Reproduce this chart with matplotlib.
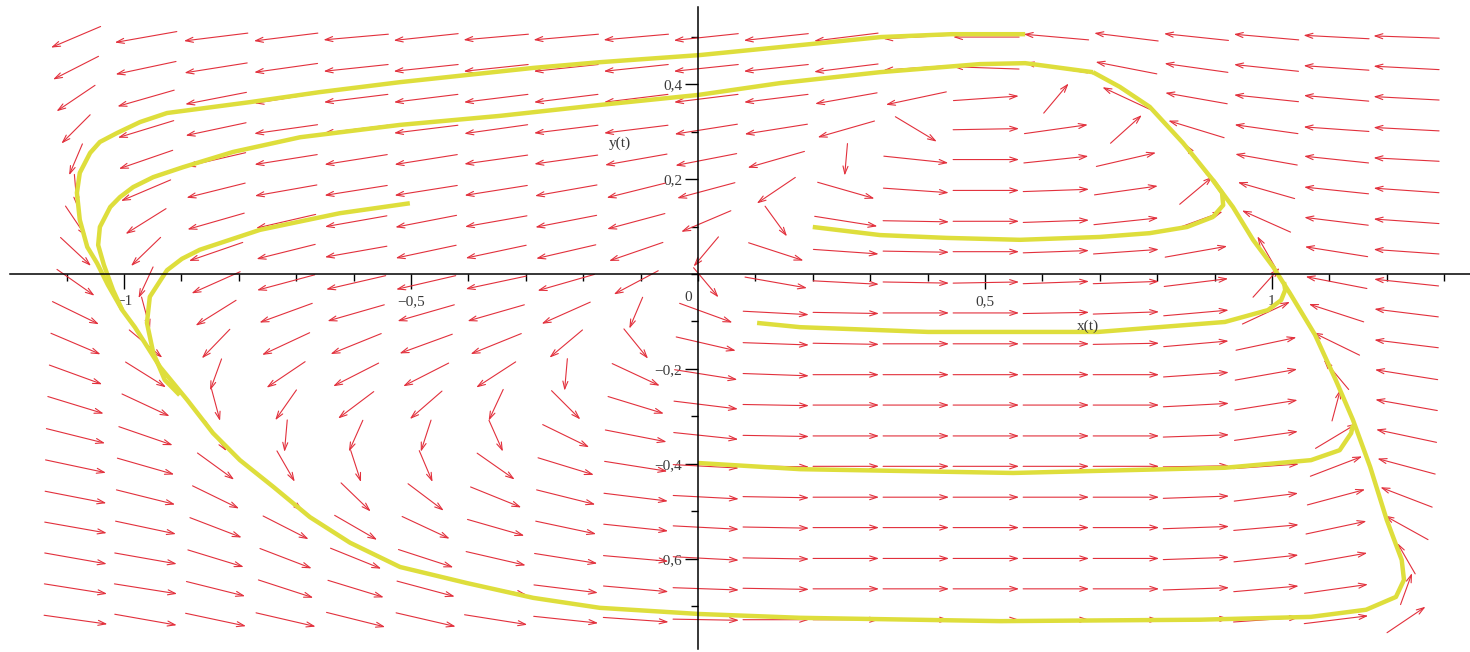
import matplotlib
matplotlib.use("Agg")
import matplotlib.pyplot as plt
import numpy as np

# direction field grid (data coords)
X_GRID = [-1.084, -0.962, -0.840, -0.718, -0.596, -0.474, -0.352, -0.230, -0.108, 0.014,
          0.136, 0.258, 0.380, 0.502, 0.624, 0.746, 0.868, 0.990, 1.112, 1.234]
Y_GRID = [0.499, 0.434, 0.370, 0.305, 0.241, 0.176, 0.111, 0.047, -0.018, -0.082,
          -0.147, -0.212, -0.276, -0.341, -0.405, -0.470, -0.534, -0.599, -0.663, -0.728]

# arrow directions on screen, degrees ccw from +x, rows top -> bottom
ANGLES = [
    [203, 190, 187, 187, 185, 186, 185, 185, 185, 186, 186, 187, 183, 180, 175, 173, 174, 175, 177, 178],
    [207, 192, 189, 188, 186, 186, 186, 186, 186, 186, 186, 187, 184, 178, 171, 169, 172, 174, 176, 177],
    [214, 196, 191, 189, 187, 187, 187, 187, 187, 187, 187, 190, 192, 4, 50, 155, 170, 174, 175, 177],
    [225, 197, 192, 188, 187, 187, 188, 187, 187, 189, 189, 196, 329, 1, 8, 42, 163, 172, 176, 177],
    [247, 199, 193, 189, 189, 189, 188, 188, 190, 191, 196, 265, 354, 0, 6, 13, 125, 170, 174, 177],
    [275, 203, 194, 190, 189, 189, 189, 190, 194, 195, 214, 344, 356, 0, 2, 8, 40, 164, 174, 176],
    [304, 212, 196, 193, 190, 191, 190, 191, 195, 203, 306, 351, 359, 0, 2, 6, 20, 156, 173, 176],
    [317, 224, 199, 194, 190, 192, 192, 193, 199, 230, 342, 356, 359, 0, 2, 4, 10, 120, 171, 176],
    [325, 245, 204, 195, 193, 193, 192, 196, 208, 310, 350, 357, 359, 1, 2, 2, 7, 48, 169, 174],
    [334, 285, 212, 200, 196, 196, 196, 204, 247, 340, 357, 359, 0, 0, 1, 2, 5, 25, 162, 173],
    [337, 320, 226, 205, 202, 200, 202, 220, 309, 347, 358, 359, 0, 0, 0, 1, 5, 12, 154, 173],
    [340, 328, 250, 214, 207, 207, 213, 265, 335, 351, 358, 0, 0, 0, 0, 0, 4, 10, 130, 171],
    [343, 335, 285, 235, 217, 221, 245, 315, 343, 353, 359, 0, 0, 0, 0, 0, 3, 9, 75, 170],
    [346, 341, 305, 265, 246, 252, 294, 334, 349, 354, 359, 0, 0, 0, 0, 0, 2, 8, 31, 168],
    [348, 344, 324, 300, 288, 293, 325, 343, 351, 357, 359, 0, 0, 0, 0, 0, 1, 4, 21, 165],
    [349, 346, 334, 321, 316, 323, 338, 346, 353, 357, 359, 0, 0, 0, 0, 0, 2, 7, 15, 159],
    [350, 348, 339, 333, 330, 335, 344, 348, 354, 357, 359, 0, 0, 0, 0, 0, 2, 5, 12, 151],
    [350, 350, 343, 339, 338, 342, 347, 351, 355, 357, 359, 0, 0, 0, 0, 0, 2, 6, 10, 120],
    [351, 351, 346, 342, 343, 345, 349, 353, 355, 358, 359, 0, 0, 0, 0, 0, 2, 5, 8, 70],
    [352, 350, 348, 347, 346, 347, 351, 354, 356, 359, 0, 0, 0, 0, 0, 0, 2, 4, 7, 34],
]

# trajectories (x, y)
cycle_x = [0.688, 0.570, 0.491, 0.317, 0.143, 0.000, -0.171, -0.345, -0.519, -0.693, -0.810, -0.897,
           -0.949, -0.984, -1.007, -1.024, -1.042, -1.045, -1.035, -1.019, -1.003, -0.981, -0.937,
           -0.890, -0.845, -0.798, -0.740, -0.676, -0.606, -0.519, -0.402, -0.287, -0.171, 0.003,
           0.178, 0.526, 0.875, 1.068, 1.164, 1.216, 1.230, 1.226, 1.200, 1.171, 1.141, 1.111,
           1.075, 1.031, 1.002, 0.967, 0.932, 0.897, 0.845, 0.787, 0.735, 0.688]
cycle_y = [0.425, 0.444, 0.442, 0.425, 0.402, 0.377, 0.356, 0.333, 0.314, 0.288, 0.257, 0.225,
           0.204, 0.183, 0.162, 0.141, 0.099, 0.061, 0.019, -0.034, -0.076, -0.112, -0.196,
           -0.265, -0.335, -0.392, -0.448, -0.512, -0.566, -0.617, -0.651, -0.682, -0.703, -0.716,
           -0.724, -0.731, -0.728, -0.722, -0.707, -0.680, -0.644, -0.602, -0.518, -0.406, -0.307,
           -0.223, -0.128, -0.040, 0.015, 0.072, 0.141, 0.198, 0.276, 0.352, 0.394, 0.425]

a_x = [0.570, 0.441, 0.319, 0.178, 0.003, -0.171, -0.287, -0.519, -0.659, -0.780, -0.925, -0.972,
       -1.012, -1.042, -1.059, -1.077, -1.082, -1.077, -1.064, -1.047, -1.028, -1.003]
a_y = [0.505, 0.505, 0.499, 0.482, 0.461, 0.446, 0.434, 0.404, 0.383, 0.362, 0.339, 0.320,
       0.297, 0.278, 0.255, 0.213, 0.171, 0.114, 0.057, 0.023, -0.023, -0.076]

c_x = [-0.502, -0.624, -0.763, -0.868, -0.899, -0.925, -0.955, -0.960, -0.949, -0.929, -0.903]
c_y = [0.149, 0.128, 0.093, 0.051, 0.032, 0.008, -0.048, -0.103, -0.166, -0.223, -0.255]

d_x = [0.200, 0.317, 0.434, 0.561, 0.700, 0.787, 0.852, 0.897, 0.915, 0.913, 0.897]
d_y = [0.099, 0.082, 0.076, 0.072, 0.078, 0.086, 0.099, 0.120, 0.145, 0.171, 0.198]

e_x = [0.103, 0.178, 0.401, 0.697, 0.918, 0.993, 1.016, 1.023, 1.021]
e_y = [-0.103, -0.112, -0.122, -0.122, -0.101, -0.076, -0.055, -0.034, -0.017]

f_x = [0.000, 0.178, 0.549, 0.918, 1.068, 1.118, 1.138, 1.141]
f_y = [-0.398, -0.411, -0.419, -0.408, -0.392, -0.371, -0.335, -0.318]

XLIM = (-1.216, 1.345)
YLIM = (-0.796, 0.577)
W, H = 1470, 652

fig = plt.figure(figsize=(W / 100, H / 100), dpi=100)
ax = fig.add_axes([0, 0, 1, 1])
ax.set_xlim(*XLIM)
ax.set_ylim(*YLIM)

px_x = W / (XLIM[1] - XLIM[0])
px_y = H / (YLIM[1] - YLIM[0])

# arrows: same length in grid units -> ellipse in pixels
for i, y0 in enumerate(Y_GRID):
    for j, x0 in enumerate(X_GRID):
        a = np.radians(ANGLES[i][j])
        c, s = np.cos(a), np.sin(a)
        L = 1 / np.hypot(c / 66, s / 32)
        dx = L * c / px_x / 2
        dy = L * s / px_y / 2
        ax.annotate("", xy=(x0 + dx, y0 + dy), xytext=(x0 - dx, y0 - dy),
                    arrowprops=dict(arrowstyle="->,head_length=0.55,head_width=0.18",
                                    color="#e2303c", lw=0.8, shrinkA=0, shrinkB=0),
                    zorder=2)

yellow = "#dede3c"
for xs, ys in [(cycle_x, cycle_y), (a_x, a_y), (c_x, c_y), (d_x, d_y), (e_x, e_y), (f_x, f_y)]:
    ax.plot(xs, ys, color=yellow, lw=3.2, solid_capstyle="butt",
            solid_joinstyle="round", zorder=3)

# maple style axes through origin
for side in ["top", "right"]:
    ax.spines[side].set_visible(False)
ax.spines["left"].set_position(("data", 0))
ax.spines["bottom"].set_position(("data", 0))
ax.spines["left"].set_bounds(-0.79, 0.563)
ax.spines["bottom"].set_bounds(-1.199, 1.345)
for side in ["left", "bottom"]:
    ax.spines[side].set_linewidth(1.1)
    ax.spines[side].set_zorder(4)

lab_font = dict(family="Liberation Serif", size=11, color="#3a3a3a")
ax.set_xticks([-1, -0.5, 0.5, 1])
ax.set_xticklabels(["\u22121", "\u22120,5", "0,5", "1"], **lab_font)
ax.set_xticks(np.round(np.arange(-1.1, 1.31, 0.1), 2), minor=True)
ax.set_yticks([-0.6, -0.4, -0.2, 0.2, 0.4])
ax.set_yticklabels(["\u22120,6", "\u22120,4", "\u22120,2", "0,2", "0,4"], **lab_font)
ax.set_yticks(np.round(np.arange(-0.7, 0.51, 0.1), 2), minor=True)
ax.tick_params(axis="x", which="major", direction="out", length=11, width=1, pad=4)
ax.tick_params(axis="x", which="minor", direction="out", length=5, width=1)
ax.tick_params(axis="y", which="major", direction="out", length=9.5, width=1, pad=2)
ax.tick_params(axis="y", which="minor", direction="out", length=5, width=1)

ax.text(-0.017, -0.05, "0", ha="center", va="center", **lab_font)
ax.text(0.679, -0.109, "x(t)", ha="center", va="center", **lab_font)
ax.text(-0.136, 0.276, "y(t)", ha="center", va="center", **lab_font)

fig.savefig("out.png", dpi=100)
